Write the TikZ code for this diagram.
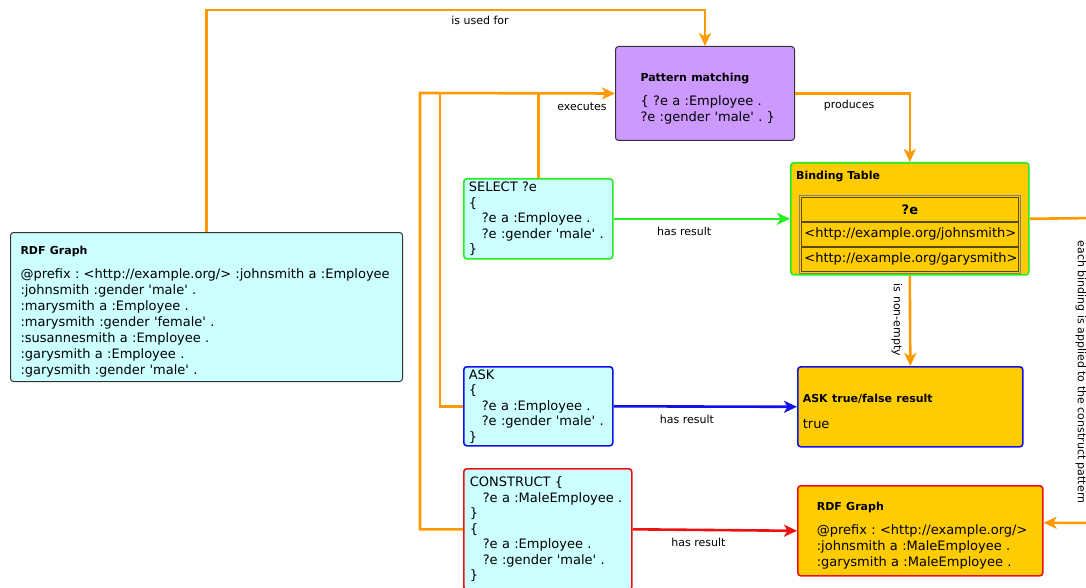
\documentclass[tikz,border=0pt]{standalone}
\usepackage{fontspec}
\setmainfont{DejaVu Sans}
\usetikzlibrary{arrows.meta,fit}
\frenchspacing

\definecolor{querybg}{HTML}{CCFFFF}
\definecolor{patternbg}{HTML}{CC99FF}
\definecolor{resultbg}{HTML}{FFCC00}
\definecolor{flowline}{HTML}{FF9900}
\definecolor{selgreen}{HTML}{22EE22}
\definecolor{askblue}{HTML}{1111EE}
\definecolor{consred}{HTML}{EE1111}
\definecolor{cellline}{HTML}{5A4A00}

\newcommand{\ttlfont}{\bfseries\fontsize{11}{14}\selectfont}
\newcommand{\ttl}[1]{\rule{0pt}{18pt}{\ttlfont #1}}
\newcommand{\sq}{\textquotesingle}
\newcommand{\ind}{\hspace*{13pt}}

\begin{document}
\begin{tikzpicture}[x=1pt,y=-1pt,
	every node/.style={inner sep=0pt},
	box/.style={draw, rounded corners=3pt, anchor=north west, align=left, font=\fontsize{13}{16}\selectfont},
	query/.style={box, fill=querybg, line width=1.6pt, font=\fontsize{13}{15.5}\selectfont},
	result/.style={box, fill=resultbg, line width=1.6pt},
	cell/.style={draw=cellline, line width=.8pt, fill=resultbg, anchor=north west, minimum width=217pt, minimum height=24pt, font=\fontsize{13}{15}\selectfont},
	lbl/.style={font=\fontsize{11}{13}\selectfont},
	flow/.style={draw=flowline, line width=2.6pt},
	tip/.style={-{Stealth[length=13pt,width=12pt,inset=3.5pt]}}]

	\fill[white] (0,0) rectangle (1086,588);
	\useasboundingbox (0,0) rectangle (1086,588);

	% data and pattern
	\node[box, fill=querybg, draw=black!80, line width=1pt, minimum width=392pt, minimum height=149pt, text width=372pt, inner xsep=10pt] (rdf) at (10,232)
		{\ttl{RDF Graph}\\[8pt]\mbox{@prefix : <http://example.org/> :johnsmith a :Employee}\\ :johnsmith :gender \sq male\sq\ .\\ :marysmith a :Employee .\\ :marysmith :gender \sq female\sq\ .\\ :susannesmith a :Employee .\\ :garysmith a :Employee .\\ :garysmith :gender \sq male\sq\ .};
	\node[box, fill=patternbg, draw=black!80, line width=1pt, minimum width=179pt, minimum height=94pt, text width=129pt, inner xsep=25pt] (pm) at (615,46)
		{\ttl{Pattern matching}\\[8pt]\{ ?e a :Employee .\\ \mbox{?e :gender \sq male\sq\ . \}}};

	% queries
	\node[query, draw=selgreen, minimum width=149pt, minimum height=80pt, text width=139pt, inner xsep=5pt] (sel) at (463,178)
		{SELECT ?e\\ \{\\ \ind ?e a :Employee .\\ \ind ?e :gender \sq male\sq\ .\\ \}};
	\node[query, draw=askblue, minimum width=149pt, minimum height=79pt, text width=139pt, inner xsep=5pt] (ask) at (463,366)
		{ASK\\ \{\\ \ind ?e a :Employee .\\ \ind ?e :gender \sq male\sq\ .\\ \}};
	\node[query, draw=consred, minimum width=168pt, minimum height=121pt, text width=156pt, inner xsep=6pt] (cons) at (463,468)
		{CONSTRUCT \{\\ \ind ?e a :MaleEmployee .\\ \}\\ \{\\ \ind ?e a :Employee .\\ \ind ?e :gender \sq male\sq\ .\\ \}};

	% results
	\node[result, draw=selgreen, minimum width=238pt, minimum height=112pt] (bind) at (790,162) {};
	\node[anchor=west, font=\ttlfont] (bindttl) at (796,177) {Binding Table};
	\node[cell, font=\bfseries\fontsize{13}{15}\selectfont] (hdr) at (801,197) {?e};
	\node[cell, text width=211pt, inner xsep=3pt, align=left] (row1) at (801,222) {<http://example.org/johnsmith>};
	\node[cell, text width=211pt, inner xsep=3pt, align=left] (row2) at (801,247) {<http://example.org/garysmith>};
	\node[draw=gray, line width=.8pt, fit=(hdr)(row2), inner sep=2pt] (tbl) {};
	\node[result, draw=askblue, minimum width=225pt, minimum height=80pt, text width=215pt, inner xsep=5pt] (askres) at (797,366)
		{\ttl{ASK true/false result}\\[10pt]true};
	\node[result, draw=consred, minimum width=245pt, minimum height=90pt, text width=207pt, inner xsep=19pt] (rdfres) at (797,485)
		{\ttl{RDF Graph}\\[8pt]\mbox{@prefix : <http://example.org/>}\\ :johnsmith a :MaleEmployee .\\ :garysmith a :MaleEmployee .};

	% connectors
	\coordinate (ut) at (450,10);
	\coordinate (jc) at (420,93);
	\coordinate (ja) at (440,93);
	\coordinate (eb) at (1094,218);

	\draw[flow, tip] (rdf.north) |- (ut) -| (pm.north);
	\draw[flow, tip] (cons.west) -| (jc) -- (pm.west);
	\draw[flow] (ask.west) -| (ja);
	\draw[flow] (sel.north) -- (sel.north |- pm.west);
	\draw[flow, tip] (pm.east) -| (bind.north);
	\draw[flow, tip] (bind.south) -- (askres.north);
	\draw[flow, tip] (bind.east) -- (eb) |- ([yshift=8pt]rdfres.east);

	\foreach \src/\dst/\col in {sel/bind/selgreen, ask/askres/askblue, cons/rdfres/consred}
		\draw[line width=2.6pt, draw=\col, tip] (\src.east) -- node[lbl, pos=.4, below=7pt] (hr\src) {has result} (\dst.west);

	\node[lbl] (usedfor) at (480,20) {is used for};
	\node[lbl] (exec) at (582,107) {executes};
	\node[lbl] (prod) at (849,105) {produces};
	\node[lbl, rotate=-90] (nonempty) at (897,320) {is non-empty};
	\node[lbl, rotate=-90] (eachb) at (1081,372) {each binding is applied to the construct pattern};
\end{tikzpicture}
\end{document}
